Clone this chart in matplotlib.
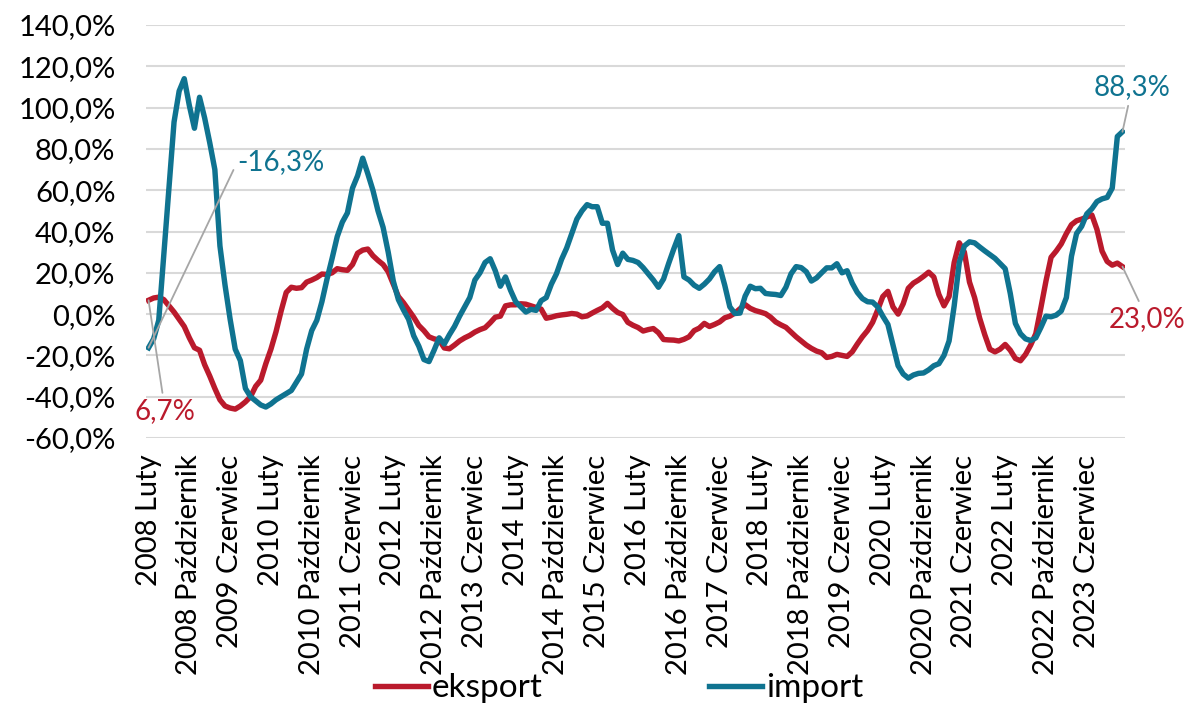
import matplotlib
matplotlib.use("Agg")
import matplotlib.pyplot as plt
from matplotlib.ticker import FuncFormatter

plt.rcParams['font.family'] = ['Lato', 'DejaVu Sans']

months_pl = ["Styczeń", "Luty", "Marzec", "Kwiecień", "Maj", "Czerwiec",
             "Lipiec", "Sierpień", "Wrzesień", "Październik", "Listopad", "Grudzień"]

start_year = 2008
start_month = 2  # Luty

eksport = [
    6.7, 7.8, 8.2, 7.0, 4.0, 1.0, -2.5, -6.0, -11.5, -16.3,
    -17.5, -24.5, -30.0, -36.0, -41.5, -44.5, -45.5, -46.0, -44.5, -42.5,
    -40.0, -35.0, -32.0, -24.0, -17.0, -8.5, 1.5, 10.5, 13.0, 12.5,
    12.8, 15.5, 16.5, 17.7, 19.4, 19.2, 20.0, 22.0, 21.5, 21.2,
    24.0, 29.5, 31.0, 31.5, 28.3, 26.0, 24.0, 20.5, 14.5, 8.5,
    5.5, 2.0, -1.5, -5.5, -8.0, -11.0, -12.0, -12.5, -16.4, -16.8,
    -15.0, -13.0, -11.5, -10.3, -8.7, -7.5, -6.6, -4.2, -1.5, -1.0,
    4.0, 4.5, 4.5, 5.0, 4.8, 4.0, 3.2, 2.4, -2.0, -1.5,
    -0.8, -0.4, -0.1, 0.3, 0.0, -1.3, -0.9, 0.5, 1.8, 3.0,
    5.2, 2.8, 0.8, -0.2, -4.0, -5.4, -6.5, -8.2, -7.5, -7.0,
    -9.0, -12.3, -12.5, -12.6, -13.0, -12.2, -11.0, -8.0, -6.8, -4.5,
    -6.0, -5.0, -3.8, -1.8, -1.0, 0.5, 2.6, 4.6, 2.8, 1.7,
    1.0, 0.2, -1.5, -3.8, -5.2, -6.4, -8.7, -11.0, -13.0, -15.0,
    -16.6, -17.9, -18.7, -21.0, -20.5, -19.5, -20.0, -20.5, -18.3, -14.5,
    -11.0, -8.0, -4.0, 2.0, 8.5, 11.0, 3.5, 0.0, 5.0, 12.5,
    15.0, 16.5, 18.3, 20.3, 18.0, 9.5, 4.0, 8.5, 25.0, 34.5,
    30.0, 15.5, 8.0, -2.0, -10.0, -17.0, -18.3, -17.0, -14.7, -17.5,
    -21.5, -22.6, -19.5, -15.0, -9.5, 3.0, 16.0, 27.5, 30.5, 34.0,
    39.0, 43.3, 45.2, 46.0, 47.0, 48.0, 41.0, 30.5, 25.5, 23.7,
    24.7, 23.0,
]

import_ = [
    -16.3, -12.0, -3.0, 29.0, 61.0, 93.0, 108.0, 114.0, 101.0, 90.0,
    105.0, 95.0, 83.0, 70.0, 33.0, 14.0, -2.5, -17.0, -22.5, -36.0,
    -40.0, -42.0, -44.0, -45.0, -43.5, -41.5, -40.0, -38.5, -37.0, -33.0,
    -29.0, -17.0, -8.0, -3.0, 6.0, 17.0, 27.0, 37.5, 44.5, 49.0,
    61.0, 67.0, 75.5, 68.0, 60.0, 50.0, 42.0, 30.0, 16.0, 7.0,
    2.0, -2.5, -10.5, -15.5, -22.0, -23.0, -17.5, -11.5, -14.5, -10.0,
    -6.0, -1.0, 3.5, 8.0, 16.5, 20.0, 25.0, 26.8, 21.0, 13.5,
    18.0, 11.5, 6.0, 3.5, 1.0, 2.3, 1.8, 6.5, 8.0, 14.5,
    19.5, 26.5, 32.0, 39.0, 46.0, 50.0, 53.0, 52.0, 52.0, 44.0,
    44.0, 31.0, 24.0, 29.5, 26.5, 26.0, 25.0, 22.5, 19.5, 16.5,
    13.0, 17.0, 24.5, 31.5, 38.0, 18.0, 16.5, 14.0, 12.5, 14.5,
    17.0, 20.5, 23.0, 14.0, 3.5, 0.3, 0.5, 8.7, 13.5, 12.3,
    12.5, 10.0, 9.7, 9.5, 9.0, 13.0, 19.5, 23.0, 22.5, 20.5,
    16.0, 17.5, 20.0, 22.4, 22.4, 24.4, 20.0, 21.0, 15.0, 10.5,
    7.5, 6.0, 5.8, 3.5, -1.0, -5.0, -15.0, -25.0, -29.0, -31.0,
    -29.5, -28.7, -28.5, -27.0, -25.0, -24.0, -20.0, -13.0, 4.0, 25.0,
    33.0, 35.0, 34.5, 32.5, 30.6, 28.8, 27.0, 24.5, 22.0, 10.0,
    -4.5, -9.5, -12.0, -12.8, -11.5, -6.5, -1.0, -1.3, -0.5, 1.5,
    8.0, 28.0, 39.0, 42.5, 48.5, 51.0, 54.5, 55.8, 56.5, 61.0,
    86.0, 88.3,
]

n = len(eksport)
labels = []
for i in range(n):
    m = start_month - 1 + i
    labels.append(f"{start_year + m // 12} {months_pl[m % 12]}")

RED = "#BA1A2C"
BLUE = "#0F7390"
GRAY = "#A6A6A6"

fig = plt.figure(figsize=(11.89, 7.06), dpi=100)
ax = fig.add_axes([146 / 1189, 1 - 438 / 706, (1125 - 146) / 1189, (438 - 25) / 706])

x = list(range(n))
ax.plot(x, eksport, color=RED, lw=3.9, solid_joinstyle='round', label="eksport", zorder=3)
ax.plot(x, import_, color=BLUE, lw=3.9, solid_joinstyle='round', label="import", zorder=3)

ax.set_xlim(-0.5, n - 0.5)
ax.set_ylim(-60, 140)
ax.set_yticks(range(-60, 141, 20))
ax.yaxis.set_major_formatter(FuncFormatter(lambda v, p: f"{v:.1f}%".replace(".", ",")))
ax.grid(axis='y', color="#D9D9D9", lw=1.5, zorder=0)
ax.set_axisbelow(True)
for s in ax.spines.values():
    s.set_visible(False)

tick_idx = list(range(0, n, 8))
ax.set_xticks(tick_idx)
ax.set_xticklabels([labels[i] for i in tick_idx], rotation=90, fontsize=21)
ax.tick_params(axis='both', length=0, labelsize=21, colors="black")
ax.tick_params(axis='x', pad=12)
ax.tick_params(axis='y', pad=22)

def note(idx, series, text, color, off, ha='center', relpos=(0.5, 0.5)):
    ax.annotate(text, xy=(idx, series[idx]), xytext=off, textcoords='offset points',
                fontsize=20, color=color, ha=ha, va='center',
                arrowprops=dict(arrowstyle='-', color=GRAY, lw=1.3,
                                shrinkA=2, shrinkB=0, relpos=relpos))

note(0, import_, f"{import_[0]:.1f}%".replace(".", ","), BLUE, (64, 134), ha='left', relpos=(0, 0.5))
note(0, eksport, f"{eksport[0]:.1f}%".replace(".", ","), RED, (12, -80))
note(n - 1, import_, f"{import_[-1]:.1f}%".replace(".", ","), BLUE, (7, 32))
note(n - 1, eksport, f"{eksport[-1]:.1f}%".replace(".", ","), RED, (18, -38))

handles, labs = ax.get_legend_handles_labels()
fig.legend(handles, labs, loc='center', bbox_to_anchor=(619 / 1189, 0.025), ncol=2,
           frameon=False, fontsize=24, handlelength=1.6, handletextpad=0.1,
           columnspacing=5.0)

fig.savefig("out.png", dpi=100)
